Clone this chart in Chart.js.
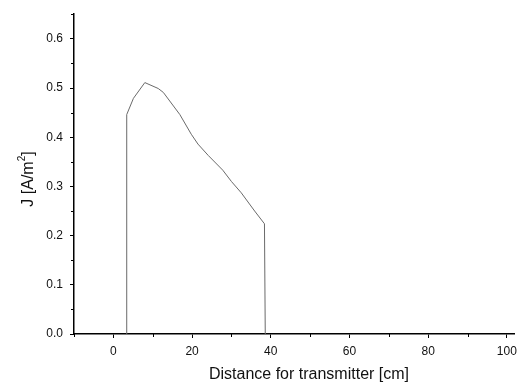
<!DOCTYPE html>
<html>
<head>
<meta charset="utf-8">
<script src="https://cdn.jsdelivr.net/npm/chart.js@4/dist/chart.umd.min.js"></script>
<style>
  html, body { margin: 0; padding: 0; background: #fff; }
  #wrap { width: 523px; height: 385px; }
</style>
</head>
<body>
<div id="wrap"><canvas id="grafico" width="523" height="385"></canvas></div>
<script>
// Datos
const distancia = [3.4, 3.4, 5.1, 8.0, 11.4, 12.7, 16.9, 19.8, 21.5, 24.1, 27.8, 30.0, 32.5, 35.9, 38.4, 38.6];
const densidad = [0, 0.446, 0.479, 0.511, 0.499, 0.491, 0.446, 0.406, 0.386, 0.363, 0.333, 0.310, 0.287, 0.250, 0.224, 0];
const xTicks = [0, 20, 40, 60, 80, 100];
const yTicks = [0.0, 0.1, 0.2, 0.3, 0.4, 0.5, 0.6];
const xMinor = [-10, 10, 30, 50, 70, 90];
const yMinor = [0.05, 0.15, 0.25, 0.35, 0.45, 0.55, 0.65];

const fuente = 'Arial, "Liberation Sans", sans-serif';

// Marcas menores y títulos de los ejes
const extras = {
    id: 'extras',
    afterDraw(chart) {
        const { ctx, scales: { x, y } } = chart;
        ctx.save();
        ctx.strokeStyle = '#000';
        ctx.lineWidth = 1;
        xMinor.forEach(v => {
            const px = Math.round(x.getPixelForValue(v)) + 0.5;
            ctx.beginPath();
            ctx.moveTo(px, y.bottom);
            ctx.lineTo(px, y.bottom + 3);
            ctx.stroke();
        });
        yMinor.forEach(v => {
            const py = Math.round(y.getPixelForValue(v)) + 0.5;
            ctx.beginPath();
            ctx.moveTo(x.left, py);
            ctx.lineTo(x.left - 3, py);
            ctx.stroke();
        });

        // título X
        ctx.fillStyle = '#111';
        ctx.font = `16px ${fuente}`;
        ctx.textAlign = 'center';
        ctx.textBaseline = 'alphabetic';
        ctx.fillText('Distance for transmitter [cm]', 309, 379);

        // título Y: J [A/m²]
        const partes = [
            { t: 'J [A/m', size: 16, dy: 0 },
            { t: '2', size: 10, dy: -8 },
            { t: ']', size: 16, dy: 0 }
        ];
        let total = 0;
        partes.forEach(p => {
            ctx.font = `${p.size}px ${fuente}`;
            p.w = ctx.measureText(p.t).width;
            total += p.w;
        });
        ctx.translate(33, 179);
        ctx.rotate(-Math.PI / 2);
        ctx.textAlign = 'left';
        let pos = -total / 2;
        partes.forEach(p => {
            ctx.font = `${p.size}px ${fuente}`;
            ctx.fillText(p.t, pos, p.dy);
            pos += p.w;
        });
        ctx.restore();
    }
};

const ctx = document.getElementById('grafico').getContext('2d');
new Chart(ctx, {
    type: 'line',
    data: {
        datasets: [{
            data: distancia.map((d, i) => ({ x: d, y: densidad[i] })),
            borderColor: '#6a6a6a',
            borderWidth: 1,
            pointRadius: 0,
            tension: 0,
            fill: false
        }]
    },
    options: {
        responsive: false,
        animation: false,
        layout: { padding: { top: 7, right: 6, left: 0, bottom: 0 } },
        plugins: { legend: { display: false }, tooltip: { enabled: false } },
        scales: {
            x: {
                type: 'linear',
                min: -10,
                max: 102,
                afterBuildTicks: scale => { scale.ticks = xTicks.map(v => ({ value: v })); },
                afterFit: scale => { scale.height = 51; },
                border: { color: '#000', width: 1.5 },
                grid: { drawOnChartArea: false, drawTicks: true, tickLength: 4, color: '#000' },
                ticks: { color: '#111', font: { family: fuente, size: 12 }, padding: 6, maxRotation: 0 }
            },
            y: {
                type: 'linear',
                min: 0,
                max: 0.65,
                afterBuildTicks: scale => { scale.ticks = yTicks.map(v => ({ value: v })); },
                afterFit: scale => { scale.width = 74; },
                border: { color: '#000', width: 1.5 },
                grid: { drawOnChartArea: false, drawTicks: true, tickLength: 4, color: '#000' },
                ticks: {
                    color: '#111',
                    font: { family: fuente, size: 12 },
                    padding: 7,
                    callback: v => v.toFixed(1)
                }
            }
        }
    },
    plugins: [extras]
});
</script>
</body>
</html>
